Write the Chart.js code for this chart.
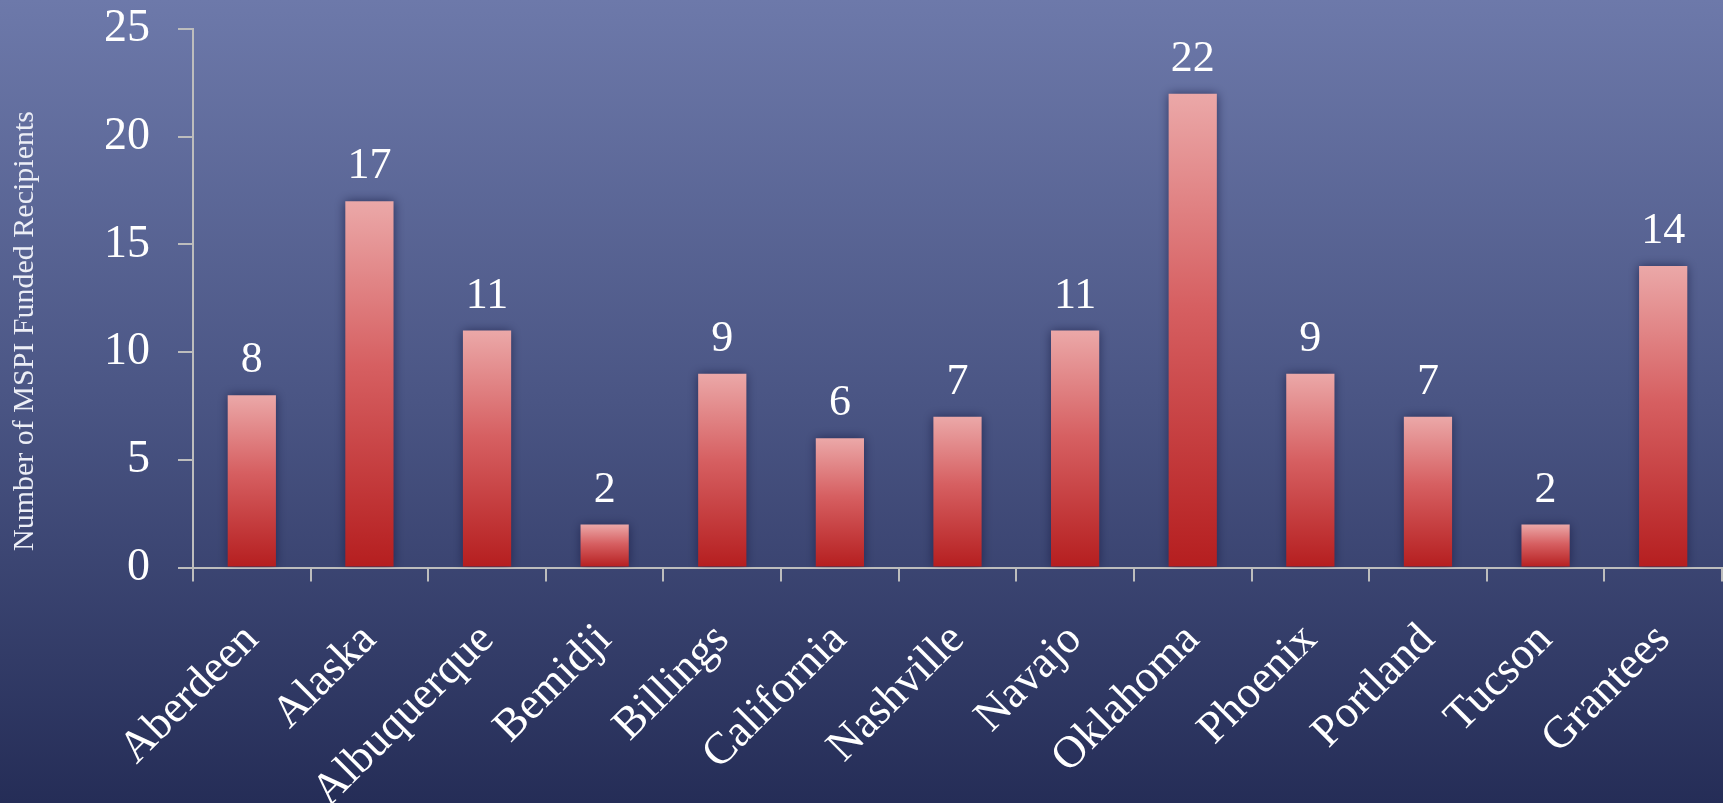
<!DOCTYPE html>
<html>
<head>
<meta charset="utf-8">
<script src="https://cdn.jsdelivr.net/npm/chart.js@4/dist/chart.umd.min.js"></script>
<style>
  html, body { margin: 0; padding: 0; background: #252d57; }
  #wrap { width: 1723px; height: 803px; position: relative; }
</style>
</head>
<body>
<div id="wrap"><canvas id="chart"></canvas></div>
<script>
// Service areas and recipient counts
const areas = ['Aberdeen', 'Alaska', 'Albuquerque', 'Bemidji', 'Billings', 'California',
  'Nashville', 'Navajo', 'Oklahoma', 'Phoenix', 'Portland', 'Tucson', 'Grantees'];
const recipients = [8, 17, 11, 2, 9, 6, 7, 11, 22, 9, 7, 2, 14];
const yTicks = [0, 5, 10, 15, 20, 25];
const yTitle = 'Number of MSPI Funded Recipients';

const SERIF = '"Liberation Serif", "Times New Roman", serif';
const AXIS_GREY = '#bdbdbd';

// Blue vertical wash behind everything
const backdrop = {
  id: 'backdrop',
  beforeDraw(chart) {
    const { ctx, width, height } = chart;
    const g = ctx.createLinearGradient(0, 0, 0, height);
    g.addColorStop(0, '#6d79aa');
    g.addColorStop(0.5, '#4a5584');
    g.addColorStop(1, '#252d57');
    ctx.save();
    ctx.fillStyle = g;
    ctx.fillRect(0, 0, width, height);
    ctx.restore();
  }
};

// Soft dark halo around the bars
const barShadow = {
  id: 'barShadow',
  beforeDatasetsDraw(chart) {
    const ctx = chart.ctx;
    ctx.save();
    ctx.shadowColor = 'rgba(25, 30, 70, 0.75)';
    ctx.shadowBlur = 10;
  },
  afterDatasetsDraw(chart) {
    chart.ctx.restore();
  }
};

// Count printed above each bar, plus the rotated y-axis caption
const annotations = {
  id: 'annotations',
  afterDraw(chart) {
    const ctx = chart.ctx;
    const meta = chart.getDatasetMeta(0);
    ctx.save();
    ctx.fillStyle = '#ffffff';
    ctx.font = '44px ' + SERIF;
    ctx.textAlign = 'center';
    ctx.textBaseline = 'alphabetic';
    meta.data.forEach((bar, i) => {
      ctx.fillText(String(recipients[i]), bar.x, bar.y - 23);
    });
    ctx.translate(25, 331);
    ctx.rotate(-Math.PI / 2);
    ctx.font = '30px ' + SERIF;
    ctx.textBaseline = 'middle';
    ctx.fillStyle = '#eceef6';
    ctx.fillText(yTitle, 0, 0);
    ctx.restore();
  }
};

function barFill(context) {
  const chart = context.chart;
  const y = chart.scales.y;
  if (!y || context.parsed == null) return '#c53030';
  const top = y.getPixelForValue(context.parsed.y);
  const bottom = y.getPixelForValue(0);
  if (!isFinite(top) || !isFinite(bottom) || top === bottom) return '#c53030';
  const g = chart.ctx.createLinearGradient(0, top, 0, bottom);
  g.addColorStop(0, '#eba8a8');
  g.addColorStop(0.45, '#d65f61');
  g.addColorStop(1, '#b51e1f');
  return g;
}

new Chart(document.getElementById('chart'), {
  type: 'bar',
  data: {
    labels: areas,
    datasets: [{
      data: recipients,
      backgroundColor: barFill,
      borderWidth: 0,
      barPercentage: 0.41,
      categoryPercentage: 1.0
    }]
  },
  options: {
    responsive: true,
    maintainAspectRatio: false,
    animation: false,
    layout: { padding: { top: 29, right: 1, left: 0, bottom: 0 } },
    plugins: {
      legend: { display: false },
      tooltip: { enabled: false }
    },
    scales: {
      x: {
        offset: true,
        grid: {
          offset: true,
          drawOnChartArea: false,
          drawTicks: true,
          tickLength: 14,
          color: AXIS_GREY,
          lineWidth: 2
        },
        border: { display: true, color: AXIS_GREY, width: 2 },
        ticks: {
          color: '#ffffff',
          font: { family: SERIF, size: 45 },
          minRotation: 45,
          maxRotation: 45,
          autoSkip: false,
          padding: 32
        },
        afterFit(scale) {
          scale.height = 235.4;
          scale.paddingLeft = 0;
          scale.paddingRight = 0;
        }
      },
      y: {
        min: 0,
        max: 25,
        afterBuildTicks(scale) { scale.ticks = yTicks.map(v => ({ value: v })); },
        grid: {
          drawOnChartArea: false,
          drawTicks: true,
          tickLength: 15,
          color: AXIS_GREY,
          lineWidth: 2
        },
        border: { display: true, color: AXIS_GREY, width: 2 },
        ticks: {
          color: '#ffffff',
          font: { family: SERIF, size: 46 },
          padding: 28
        },
        afterFit(scale) {
          scale.width = 193;
          scale.paddingTop = 0;
          scale.paddingBottom = 0;
        }
      }
    }
  },
  plugins: [backdrop, barShadow, annotations]
});
</script>
</body>
</html>
